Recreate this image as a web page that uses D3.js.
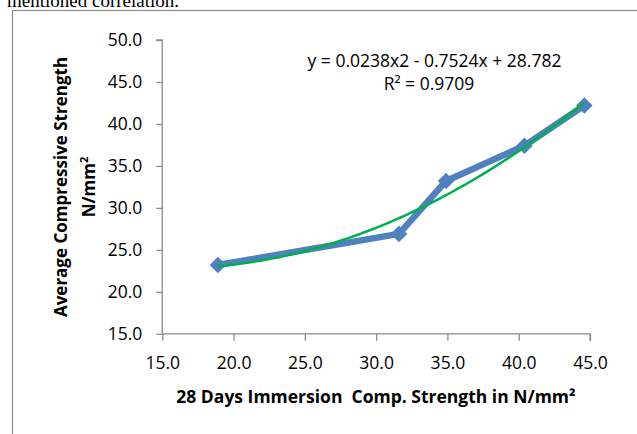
<!DOCTYPE html>
<html>
<head>
<meta charset="utf-8">
<script src="https://cdn.jsdelivr.net/npm/d3@7"></script>
<style>
  html, body { margin: 0; padding: 0; background: #fff; }
  svg { display: block; }
  text { font-family: "Open Sans", sans-serif; fill: #000; }
</style>
</head>
<body>
<svg id="chart" width="637" height="434"></svg>
<script>
// ---- data ----
const immersionStrength = [18.9, 31.6, 34.9, 40.4, 44.6];   // x
const averageStrength   = [23.2, 26.9, 33.2, 37.4, 42.2];   // y
const xTickValues = [15, 20, 25, 30, 35, 40, 45];
const yTickValues = [15, 20, 25, 30, 35, 40, 45, 50];
const trendCoefficients = [0.0238, -0.7524, 28.782];       // a x^2 + b x + c
const equationText = "y = 0.0238x2 - 0.7524x + 28.782";
const rSquaredText = "R² = 0.9709";
const xTitle = "28 Days Immersion\u00A0\u00A0Comp. Strength in N/mm²";
const yTitleLines = ["Average Compressive Strength", "N/mm"];
const captionText = "mentioned correlation.";

const svg = d3.select("#chart");

// page caption (cut off at top)
svg.append("text")
  .attr("x", 7).attr("y", 6.5)
  .style("font-family", "'Liberation Serif', 'Times New Roman', serif")
  .style("font-size", "19px")
  .text(captionText);

// chart frame
svg.append("rect")
  .attr("x", 12.5).attr("y", 10.5)
  .attr("width", 700).attr("height", 500)
  .attr("fill", "none").attr("stroke", "#8a8a8a").attr("stroke-width", 1.2);

const x = d3.scaleLinear().domain([15, 45]).range([162.3, 590]);
const y = d3.scaleLinear().domain([15, 50]).range([333.8, 40]);

const axisColor = "#8c8c8c";

// y axis
const gy = svg.append("g").attr("transform", `translate(${x(15)},0)`)
  .call(d3.axisLeft(y).tickValues(yTickValues).tickFormat(d3.format(".1f"))
        .tickSize(6).tickSizeOuter(6).tickPadding(14));
// x axis
const gx = svg.append("g").attr("transform", `translate(0,${y(15)})`)
  .call(d3.axisBottom(x).tickValues(xTickValues).tickFormat(d3.format(".1f"))
        .tickSize(7).tickSizeOuter(7).tickPadding(16));

[gx, gy].forEach(g => {
  g.select(".domain").attr("stroke", axisColor).attr("stroke-width", 1.3);
  g.selectAll(".tick line").attr("stroke", axisColor).attr("stroke-width", 1.3);
  g.selectAll(".tick text").style("font-size", "17.5px").style("font-family", "'Open Sans', sans-serif").attr("fill", "#000");
});
gy.select(".domain").attr("d", `M-6,${y(50)}H0V${y(15)}`);
gx.select(".domain").attr("d", `M${x(15)},0H${x(45)}V7`);

// series data
const pts = immersionStrength.map((v, i) => ({x: v, y: averageStrength[i]}));

// data line
svg.append("path")
  .datum(pts)
  .attr("fill", "none")
  .attr("stroke", "#4F81BD")
  .attr("stroke-width", 6.5)
  .attr("stroke-linejoin", "round")
  .attr("d", d3.line().x(d => x(d.x)).y(d => y(d.y)));

// markers (diamonds)
svg.append("g").selectAll("path")
  .data(pts).join("path")
  .attr("transform", d => `translate(${x(d.x)},${y(d.y)})`)
  .attr("d", d3.symbol().type(d3.symbolDiamond2).size(175))
  .attr("fill", "#4F81BD");

// polynomial trendline
const [a, b, c] = trendCoefficients;
const xMin = d3.min(immersionStrength), xMax = d3.max(immersionStrength);
const trendPts = d3.range(0, 101).map(i => {
  const xv = xMin + (xMax - xMin) * i / 100;
  return {x: xv, y: a * xv * xv + b * xv + c};
});
svg.append("path")
  .datum(trendPts)
  .attr("fill", "none")
  .attr("stroke", "#00B050")
  .attr("stroke-width", 2.5)
  .attr("d", d3.line().x(d => x(d.x)).y(d => y(d.y)));

// equation label
svg.append("text")
  .attr("x", 434.5).attr("y", 67)
  .attr("text-anchor", "middle")
  .style("font-size", "17.5px")
  .text(equationText);
svg.append("text")
  .attr("x", 429).attr("y", 90)
  .attr("text-anchor", "middle")
  .style("font-size", "17.5px")
  .text(rSquaredText);

// x title
svg.append("text")
  .attr("x", 376).attr("y", 403)
  .attr("text-anchor", "middle")
  .style("font-size", "17.5px").style("font-weight", "bold")
  .text(xTitle);

// y title
const yt = svg.append("g").attr("transform", "translate(0,187) rotate(-90)");
yt.append("text")
  .attr("x", 0).attr("y", 67)
  .attr("text-anchor", "middle")
  .style("font-size", "17px").style("font-weight", "bold")
  .text(yTitleLines[0]);
const l2 = yt.append("text")
  .attr("x", 0).attr("y", 94.5)
  .attr("text-anchor", "middle")
  .style("font-size", "17px").style("font-weight", "bold");
l2.append("tspan").text(yTitleLines[1]);
l2.append("tspan").attr("dy", -7).style("font-size", "11px").text("2");
</script>
</body>
</html>
